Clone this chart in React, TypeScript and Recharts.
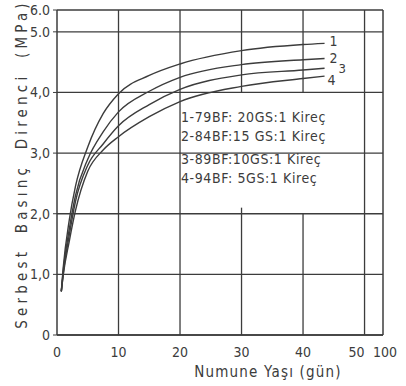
import React from "react";
import { LineChart, Line, XAxis, YAxis, CartesianGrid, ReferenceLine, LabelList } from "recharts";

// yaş (gün) ve serbest basınç direnci (MPa)
const days = [0.7, 1, 2, 3, 5, 7.5, 10, 15, 20, 30, 40, 43.5];
const seri1 = [0.72, 1.1, 1.9, 2.45, 3.1, 3.65, 3.98, 4.28, 4.47, 4.69, 4.79, 4.81];
const seri2 = [0.72, 1.05, 1.75, 2.3, 2.9, 3.35, 3.68, 4.02, 4.25, 4.46, 4.54, 4.56];
const seri3 = [0.72, 1.0, 1.65, 2.2, 2.8, 3.15, 3.45, 3.8, 4.05, 4.29, 4.37, 4.4];
const seri4 = [0.72, 0.98, 1.55, 2.05, 2.7, 3.05, 3.27, 3.6, 3.85, 4.1, 4.23, 4.27];

const curveNames = ["1", "2", "3", "4"];
const legendLines = [
  "1-79BF: 20GS:1 Kireç",
  "2-84BF:15 GS:1 Kireç",
  "3-89BF:10GS:1 Kireç",
  "4-94BF: 5GS:1 Kireç",
];

// x ekseni 50'den sonra 100'e sıkıştırılmış; y ekseni 5.0'dan sonra 6.0'ya
const xTicks = [0, 10, 20, 30, 40, 50, 53];
const xTickLabels = ["0", "10", "20", "30", "40", "50", "100"];
const yTicks = [0, 1, 2, 3, 4, 5, 5.36];
const yTickLabels = ["0", "1,0", "2,0", "3,0", "4,0", "5.0", "6.0"];

const data = days.map((d, i) => ({
  day: d,
  s1: seri1[i],
  s2: seri2[i],
  s3: seri3[i],
  s4: seri4[i],
}));

const ink = "#3c3c3c";
const font = "'DejaVu Sans Condensed', 'DejaVu Sans', sans-serif";

const labelOffsets = [
  { dx: 5, dy: -1 },
  { dx: 5, dy: 0 },
  { dx: 14, dy: 1 },
  { dx: 3, dy: 5 },
];

function endLabel(k: number) {
  return (props: any) => {
    const { x, y, index } = props;
    if (index !== days.length - 1) return null;
    return (
      <text
        x={x + labelOffsets[k].dx}
        y={y + labelOffsets[k].dy}
        dominantBaseline="middle"
        fontSize={k === 2 ? 13 : 14}
        fill={ink}
        fontFamily={font}
      >
        {curveNames[k]}
      </text>
    );
  };
}

function XTick(props: any) {
  const { x, y, payload } = props;
  const i = xTicks.indexOf(payload.value);
  const shift = payload.value === 50 ? -8 : payload.value === 53 ? 2 : 0;
  return (
    <text x={x + shift} y={y + 4} dy="0.71em" textAnchor="middle" fontSize={14} fill={ink} fontFamily={font}>
      {xTickLabels[i]}
    </text>
  );
}

export default function App() {
  const keys = ["s1", "s2", "s3", "s4"];
  return (
    <div style={{ position: "absolute", left: 0, top: 0, width: 406, height: 386, background: "#fff" }}>
      <LineChart
        width={406}
        height={386}
        data={data}
        margin={{ top: 10, right: 23, left: 10, bottom: 21 }}
        style={{ fontFamily: font }}
      >
        <CartesianGrid vertical={false} stroke={ink} strokeWidth={1.3} />
        <XAxis
          type="number"
          dataKey="day"
          domain={[0, 53]}
          ticks={xTicks}
          interval={0}
          allowDataOverflow
          height={30}
          tickLine={false}
          axisLine={{ stroke: ink, strokeWidth: 1.5 }}
          tick={<XTick />}
          label={{
            content: () => (
              <text x={268} y={377} textAnchor="middle" fontSize={15} letterSpacing={1.2} fill={ink} fontFamily={font}>
                Numune Yaşı (gün)
              </text>
            ),
          }}
        />
        <YAxis
          type="number"
          domain={[0, 5.36]}
          ticks={yTicks}
          interval={0}
          allowDataOverflow
          width={47}
          tickSize={4}
          tickMargin={3}
          tickLine={{ stroke: ink }}
          axisLine={{ stroke: ink, strokeWidth: 1.5 }}
          tick={{ fill: ink, fontSize: 14 }}
          tickFormatter={(v: number) => yTickLabels[yTicks.indexOf(v)]}
          label={{
            content: () => (
              <text
                x={27}
                y={164}
                transform="rotate(-90 27 164)"
                textAnchor="middle"
                fontSize={15}
                letterSpacing={4.2}
                wordSpacing={6}
                fill={ink}
                fontFamily={font}
              >
                Serbest Basınç Direnci (MPa)
              </text>
            ),
          }}
        />
        <ReferenceLine x={10} stroke={ink} strokeWidth={1.3} />
        <ReferenceLine x={20} stroke={ink} strokeWidth={1.3} />
        <ReferenceLine x={50} stroke={ink} strokeWidth={1.3} />
        <ReferenceLine x={53} stroke={ink} strokeWidth={1.5} />
        <ReferenceLine segment={[{ x: 30, y: 0 }, { x: 30, y: 2.1 }]} stroke={ink} strokeWidth={1.3} />
        <ReferenceLine segment={[{ x: 30, y: 4 }, { x: 30, y: 5.36 }]} stroke={ink} strokeWidth={1.3} />
        <ReferenceLine segment={[{ x: 40, y: 0 }, { x: 40, y: 2.0 }]} stroke={ink} strokeWidth={1.3} />
        <ReferenceLine segment={[{ x: 40, y: 4 }, { x: 40, y: 5.36 }]} stroke={ink} strokeWidth={1.3} />
        {keys.map((k, i) => (
          <Line
            key={k}
            type="monotone"
            dataKey={k}
            stroke={ink}
            strokeWidth={1.4}
            dot={false}
            isAnimationActive={false}
          >
            <LabelList dataKey={k} content={endLabel(i)} />
          </Line>
        ))}
      </LineChart>
      <div
        style={{
          position: "absolute",
          left: 181,
          top: 108,
          fontFamily: font,
          fontSize: 14,
          color: ink,
          lineHeight: "19px",
          letterSpacing: 0.6,
          whiteSpace: "nowrap",
        }}
      >
        {legendLines.map((t, i) => (
          <div key={i} style={{ marginTop: i === 2 ? 4 : 0 }}>
            {t}
          </div>
        ))}
      </div>
    </div>
  );
}
